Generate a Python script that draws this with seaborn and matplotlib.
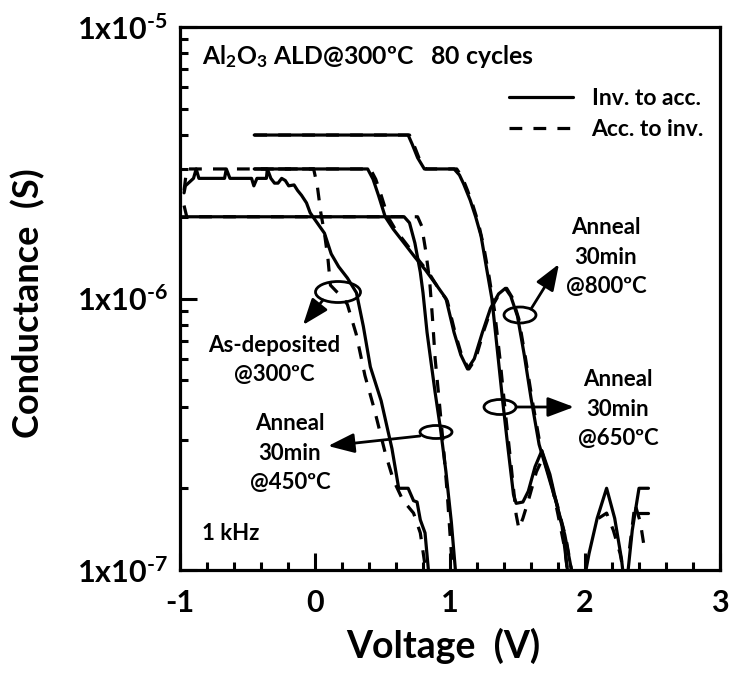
import numpy as np
import pandas as pd
import matplotlib
matplotlib.use("Agg")
import matplotlib.pyplot as plt
import seaborn as sns
from matplotlib.patches import Ellipse
from matplotlib.lines import Line2D
from matplotlib.ticker import FuncFormatter, NullFormatter, LogLocator, MultipleLocator, AutoMinorLocator

# ---------------- data ----------------
asdep_inv_v = [-0.97, -0.96, -0.90, -0.88, -0.86, -0.67, -0.657, -0.63, -0.47, -0.453, -0.43, -0.36, -0.353, -0.327,
               -0.30, -0.274, -0.247, -0.22, -0.195, -0.155, -0.129, -0.10, -0.063, -0.036, 0.0, 0.07, 0.12, 0.175,
               0.24, 0.307, 0.358, 0.41, 0.49, 0.57, 0.62, 0.69, 0.73, 0.756, 0.78, 0.815, 0.84, 0.85]
asdep_inv_g = [2.45e-6, 2.6e-6, 2.77e-6, 3.0e-6, 2.77e-6, 2.77e-6, 3.0e-6, 2.77e-6, 2.77e-6, 2.6e-6, 2.77e-6, 2.77e-6,
               3.0e-6, 2.77e-6, 2.66e-6, 2.66e-6, 2.77e-6, 2.72e-6, 2.6e-6, 2.62e-6, 2.5e-6, 2.4e-6, 2.25e-6, 2.07e-6,
               1.95e-6, 1.74e-6, 1.46e-6, 1.31e-6, 1.19e-6, 1.05e-6, 7.9e-7, 5.6e-7, 4.2e-7, 2.8e-7, 2.0e-7, 2.0e-7,
               1.8e-7, 1.78e-7, 1.53e-7, 1.37e-7, 1.0e-7, 9e-8]
asdep_acc_v = [-0.97, -0.95, -0.01, 0.017, 0.043, 0.07, 0.096, 0.114, 0.16, 0.20, 0.24, 0.305, 0.37, 0.44, 0.52,
               0.58, 0.65, 0.73, 0.78, 0.82, 0.83]
asdep_acc_g = [2.5e-6, 3.0e-6, 3.0e-6, 2.6e-6, 2.07e-6, 1.74e-6, 1.4e-6, 1.12e-6, 1.06e-6, 1.02e-6, 9.5e-7, 7.4e-7,
               5.2e-7, 3.9e-7, 2.7e-7, 2.15e-7, 1.81e-7, 1.62e-7, 1.37e-7, 1.0e-7, 9e-8]

a450_inv_v = [-1.0, 0.66, 0.70, 0.74, 0.78, 0.80, 0.83, 0.86, 0.89, 0.93, 0.97, 1.01, 1.04, 1.045]
a450_inv_g = [2.0e-6, 2.0e-6, 1.9e-6, 1.6e-6, 1.25e-6, 1.05e-6, 7.5e-7, 5.8e-7, 4.5e-7, 3.3e-7, 2.3e-7, 1.5e-7,
              1.0e-7, 9e-8]
a450_acc_v = [-0.97, -0.95, 0.76, 0.79, 0.82, 0.85, 0.87, 0.89, 0.92, 0.95, 0.98, 1.01, 1.02]
a450_acc_g = [2.2e-6, 2.0e-6, 2.0e-6, 1.85e-6, 1.5e-6, 1.15e-6, 8.5e-7, 6e-7, 4.2e-7, 2.9e-7, 1.9e-7, 1.15e-7, 9e-8]

a650_inv_v = [-0.45, 0.69, 0.72, 0.76, 0.81, 1.03, 1.07, 1.10, 1.15, 1.19, 1.23, 1.27, 1.31, 1.35, 1.39, 1.43,
              1.47, 1.49, 1.54, 1.58, 1.63, 1.68, 1.74, 1.79, 1.83, 1.87, 1.88]
a650_inv_g = [4e-6, 4e-6, 3.7e-6, 3.3e-6, 3.0e-6, 3.0e-6, 2.85e-6, 2.65e-6, 2.3e-6, 2.0e-6, 1.7e-6, 1.3e-6, 1.0e-6,
              6.5e-7, 4.2e-7, 2.8e-7, 1.9e-7, 1.76e-7, 1.78e-7, 1.95e-7, 2.4e-7, 2.75e-7, 2.25e-7, 1.75e-7, 1.45e-7,
              1.0e-7, 9e-8]
a650_acc_v = [-0.45, 0.70, 0.74, 0.78, 0.82, 1.05, 1.09, 1.13, 1.17, 1.21, 1.25, 1.29, 1.33, 1.37, 1.41, 1.45, 1.49,
              1.51, 1.54, 1.58, 1.64, 1.69, 1.75, 1.80, 1.85, 1.88]
a650_acc_g = [4e-6, 4e-6, 3.6e-6, 3.2e-6, 3.0e-6, 3.0e-6, 2.8e-6, 2.5e-6, 2.2e-6, 1.9e-6, 1.55e-6, 1.2e-6, 9e-7,
              6e-7, 3.8e-7, 2.5e-7, 1.6e-7, 1.42e-7, 1.55e-7, 1.8e-7, 2.3e-7, 2.6e-7, 2.1e-7, 1.6e-7, 1.2e-7, 9e-8]

a800_inv_v = [-0.45, 0.39, 0.43, 0.47, 0.52, 0.58, 0.66, 0.74, 0.82, 0.90, 0.97, 1.03, 1.08, 1.13, 1.18, 1.24,
              1.30, 1.36, 1.41, 1.45, 1.50, 1.55, 1.60, 1.66, 1.72, 1.79, 1.85, 1.90, 1.91]
a800_inv_g = [3e-6, 3e-6, 2.75e-6, 2.4e-6, 2.0e-6, 1.8e-6, 1.6e-6, 1.42e-6, 1.27e-6, 1.12e-6, 1.0e-6, 7.5e-7,
              6.2e-7, 5.5e-7, 6.0e-7, 7.5e-7, 9.2e-7, 1.04e-6, 1.09e-6, 1.02e-6, 8.6e-7, 6.2e-7, 4.3e-7, 2.9e-7,
              2.3e-7, 1.75e-7, 1.35e-7, 1.0e-7, 9e-8]
a800_acc_v = [-0.45, 0.41, 0.45, 0.49, 0.54, 0.60, 0.68, 0.76, 0.84, 0.91, 0.98, 1.04, 1.09, 1.14, 1.19, 1.25,
              1.31, 1.37, 1.42, 1.46, 1.51, 1.56, 1.61, 1.67, 1.73, 1.80, 1.86, 1.90, 1.91]
a800_acc_g = [3e-6, 3e-6, 2.75e-6, 2.4e-6, 2.0e-6, 1.78e-6, 1.58e-6, 1.4e-6, 1.25e-6, 1.1e-6, 9.8e-7, 7.4e-7,
              6.1e-7, 5.5e-7, 6.0e-7, 7.6e-7, 9.3e-7, 1.05e-6, 1.09e-6, 1.01e-6, 8.4e-7, 6.0e-7, 4.2e-7, 2.85e-7,
              2.25e-7, 1.7e-7, 1.3e-7, 1.0e-7, 9e-8]

# noisy fragments above 2 V
tail_inv1_v = [1.99, 2.03, 2.09, 2.16, 2.22, 2.27, 2.29]
tail_inv1_g = [9e-8, 1.15e-7, 1.55e-7, 2.0e-7, 1.55e-7, 1.1e-7, 9e-8]
tail_inv2_v = [2.31, 2.35, 2.40, 2.47]
tail_inv2_g = [9e-8, 1.4e-7, 2.0e-7, 2.0e-7]
tail_inv3_v = [2.40, 2.47]
tail_inv3_g = [1.62e-7, 1.62e-7]
tail_acc1_v = [2.10, 2.16, 2.21, 2.26, 2.30]
tail_acc1_g = [1.55e-7, 1.62e-7, 1.4e-7, 1.15e-7, 9e-8]
tail_acc2_v = [2.33, 2.37, 2.41, 2.44, 2.47]
tail_acc2_g = [1.2e-7, 1.75e-7, 1.5e-7, 1.2e-7, 1.2e-7]

sweep_labels = ["Inv. to acc.", "Acc. to inv."]

segments = [
    ("As-deposited", sweep_labels[0], asdep_inv_v, asdep_inv_g),
    ("As-deposited", sweep_labels[1], asdep_acc_v, asdep_acc_g),
    ("450", sweep_labels[0], a450_inv_v, a450_inv_g),
    ("450", sweep_labels[1], a450_acc_v, a450_acc_g),
    ("650", sweep_labels[0], a650_inv_v, a650_inv_g),
    ("650", sweep_labels[1], a650_acc_v, a650_acc_g),
    ("800", sweep_labels[0], a800_inv_v, a800_inv_g),
    ("800", sweep_labels[1], a800_acc_v, a800_acc_g),
    ("tail1", sweep_labels[0], tail_inv1_v, tail_inv1_g),
    ("tail2", sweep_labels[0], tail_inv2_v, tail_inv2_g),
    ("tail3", sweep_labels[0], tail_inv3_v, tail_inv3_g),
    ("tail1", sweep_labels[1], tail_acc1_v, tail_acc1_g),
    ("tail2", sweep_labels[1], tail_acc2_v, tail_acc2_g),
]
rows = []
for name, sweep, vv, gg in segments:
    for v, g in zip(vv, gg):
        rows.append({"curve": name, "sweep": sweep, "voltage": v, "conductance": g})
df = pd.DataFrame(rows)

# ---------------- style ----------------
sns.set_style("ticks")
plt.rcParams["font.family"] = ["Lato", "DejaVu Sans"]
plt.rcParams["font.weight"] = "bold"
plt.rcParams["mathtext.fontset"] = "custom"
plt.rcParams["mathtext.rm"] = "Lato:bold"
plt.rcParams["mathtext.bf"] = "Lato:bold"
plt.rcParams["mathtext.it"] = "Lato:bold"
plt.rcParams["mathtext.default"] = "bf"
for key in ["text.color", "axes.labelcolor", "xtick.color", "ytick.color", "axes.edgecolor"]:
    plt.rcParams[key] = "black"

W, H = 731, 682
L, R, T, B = 180, 720, 27, 570
fig = plt.figure(figsize=(W / 100, H / 100), dpi=100)
ax = fig.add_axes([L / W, 1 - B / H, (R - L) / W, (B - T) / H])

LW = 2.3
DASH = (0, (4, 3.5))
for (name, sweep), sub in df.groupby(["curve", "sweep"], sort=False):
    ls = "-" if sweep == sweep_labels[0] else DASH
    sns.lineplot(data=sub, x="voltage", y="conductance", ax=ax, color="k", lw=LW,
                 linestyle=ls, sort=False, estimator=None, legend=False)

ax.set_yscale("log")
ax.set_xlim(-1, 3)
ax.set_ylim(1e-7, 1e-5)

# ticks
ax.xaxis.set_major_locator(MultipleLocator(1))
ax.xaxis.set_minor_locator(AutoMinorLocator(5))
ax.yaxis.set_major_locator(LogLocator(base=10, numticks=10))
ax.yaxis.set_minor_locator(LogLocator(base=10, subs=np.arange(2, 10), numticks=10))
ax.yaxis.set_major_formatter(FuncFormatter(lambda v, p: r"1x10$^{\text{-%d}}$" % abs(int(round(np.log10(v))))))
ax.yaxis.set_minor_formatter(NullFormatter())
ax.xaxis.set_major_formatter(FuncFormatter(lambda v, p: "%d" % int(round(v))))
ax.tick_params(axis="both", which="major", direction="in", length=12, width=2.2,
               labelsize=22, top=False, right=False, colors="black")
ax.tick_params(axis="both", which="minor", direction="in", length=6, width=2.2, top=False, right=False,
               colors="black")
ax.tick_params(axis="x", which="major", pad=14)
ax.tick_params(axis="y", which="major", pad=9)
for lab in ax.get_xticklabels() + ax.get_yticklabels():
    lab.set_fontweight("bold")
for sp in ax.spines.values():
    sp.set_linewidth(2.3)
    sp.set_color("k")

ax.set_xlabel("Voltage  (V)", fontsize=27, fontweight="bold", color="black")
ax.set_ylabel("Conductance  (S)", fontsize=26, fontweight="bold", color="black")
ax.xaxis.set_label_coords((443 - L) / (R - L), (B - 628) / (B - T))
ax.yaxis.set_label_coords((45 - L) / (R - L), (B - 303) / (B - T))


def frac(px, py):
    return ((px - L) / (R - L), (B - py) / (B - T))


# legend
handles = [Line2D([], [], color="k", lw=LW, linestyle="-"),
           Line2D([], [], color="k", lw=LW, linestyle=DASH)]
leg = ax.legend(handles, sweep_labels, loc="upper left", bbox_to_anchor=frac(509, 88),
                frameon=False, fontsize=16.5, handlelength=2.8, handletextpad=0.8,
                labelspacing=0.45, borderpad=0, borderaxespad=0)
for t in leg.get_texts():
    t.set_fontweight("bold")
    t.set_color("black")

# texts
TFS = 16
ax.text(*frac(202, 57), r"Al$_2$O$_3$ ALD@300ºC   80 cycles", transform=ax.transAxes,
        ha="left", va="center", fontsize=17.8, fontweight="bold", color="black")
ax.text(*frac(202, 533), "1 kHz", transform=ax.transAxes, ha="left", va="center",
        fontsize=TFS, fontweight="bold", color="black")
blocks = [
    (606, [227, 257, 287], ["Anneal", "30min", "@800ºC"]),
    (618, [380, 409, 438], ["Anneal", "30min", "@650ºC"]),
    (290, [423, 453, 483], ["Anneal", "30min", "@450ºC"]),
    (274, [345, 375], ["As-deposited", "@300ºC"]),
]
for cx, ys, lines in blocks:
    for yy, s in zip(ys, lines):
        ax.text(*frac(cx, yy), s, transform=ax.transAxes, ha="center", va="center",
                fontsize=TFS, fontweight="bold", color="black")

# ellipses (pixel centers / sizes)
ellipses = [(338, 292, 45, 21), (520, 315, 32, 16), (500, 407, 32, 15), (436, 432, 32, 13)]
for cx, cy, w, h in ellipses:
    ax.add_patch(Ellipse(frac(cx, cy), w / (R - L), h / (B - T), transform=ax.transAxes,
                         fill=False, lw=2.0, color="k", clip_on=False))

arrows = [((323, 300), (303, 325)), ((531, 309), (559, 264)),
          ((517, 407), (574, 407)), ((420, 436), (328, 446))]
for (x0, y0), (x1, y1) in arrows:
    ax.annotate("", xy=frac(x1, y1), xytext=frac(x0, y0), xycoords="axes fraction",
                textcoords="axes fraction",
                arrowprops=dict(arrowstyle="-|>,head_length=0.8,head_width=0.3", lw=2.0,
                                color="k", shrinkA=0, shrinkB=0, mutation_scale=20))

fig.savefig("out.png", dpi=100)
